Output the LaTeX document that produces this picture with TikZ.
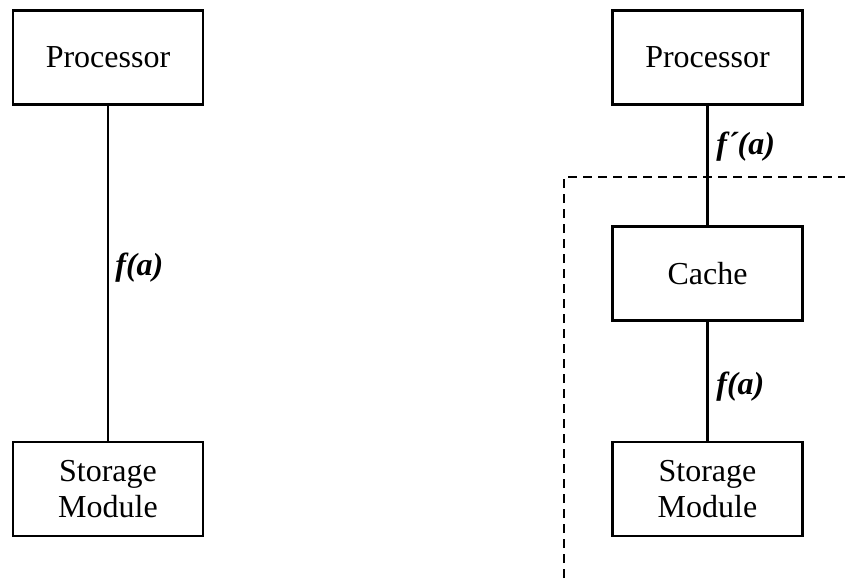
\documentclass[tikz,border=0pt]{standalone}
\usepackage{fontspec}
\setmainfont{Liberation Serif}
\begin{document}
\begin{tikzpicture}[x=0.5pt,y=-0.5pt,
  unit/.style={draw, line width=1.4pt, minimum width=95pt, minimum height=47pt,
    inner sep=0pt, align=center, font=\fontsize{16}{18}\selectfont},
  link/.style={line width=1.4pt},
  fnlabel/.style={anchor=west, inner sep=0pt, font=\fontsize{16}{18}\selectfont\bfseries\itshape},
  boundary/.style={line width=1.4pt, dash pattern=on 4.5pt off 3pt}]
\useasboundingbox (0,0) rectangle (845,583);

% without cache
\node[unit] (p1) at (108,57.5) {Processor};
\node[unit] (s1) at (108,489) {Storage\\Module};
\draw[link] (p1) -- (s1);
\node[fnlabel] (l1) at (115,268) {f(a)};

% with cache
\node[unit] (p2) at (707.5,57.5) {Processor};
\node[unit] (c2) at (707.5,273.5) {Cache};
\node[unit] (s2) at (707.5,489) {Storage\\Module};
\draw[link] (p2) -- (c2);
\draw[link] (c2) -- (s2);
\node[fnlabel] (l2) at (716,147) {f´(a)};
\node[fnlabel] (l3) at (716,387) {f(a)};

% cache boundary
\coordinate (bl) at (564,578);
\coordinate (bc) at (564,177);
\coordinate (br) at (845,177);
\draw[boundary] (bl) -- (bc) -- (br);
\end{tikzpicture}
\end{document}
